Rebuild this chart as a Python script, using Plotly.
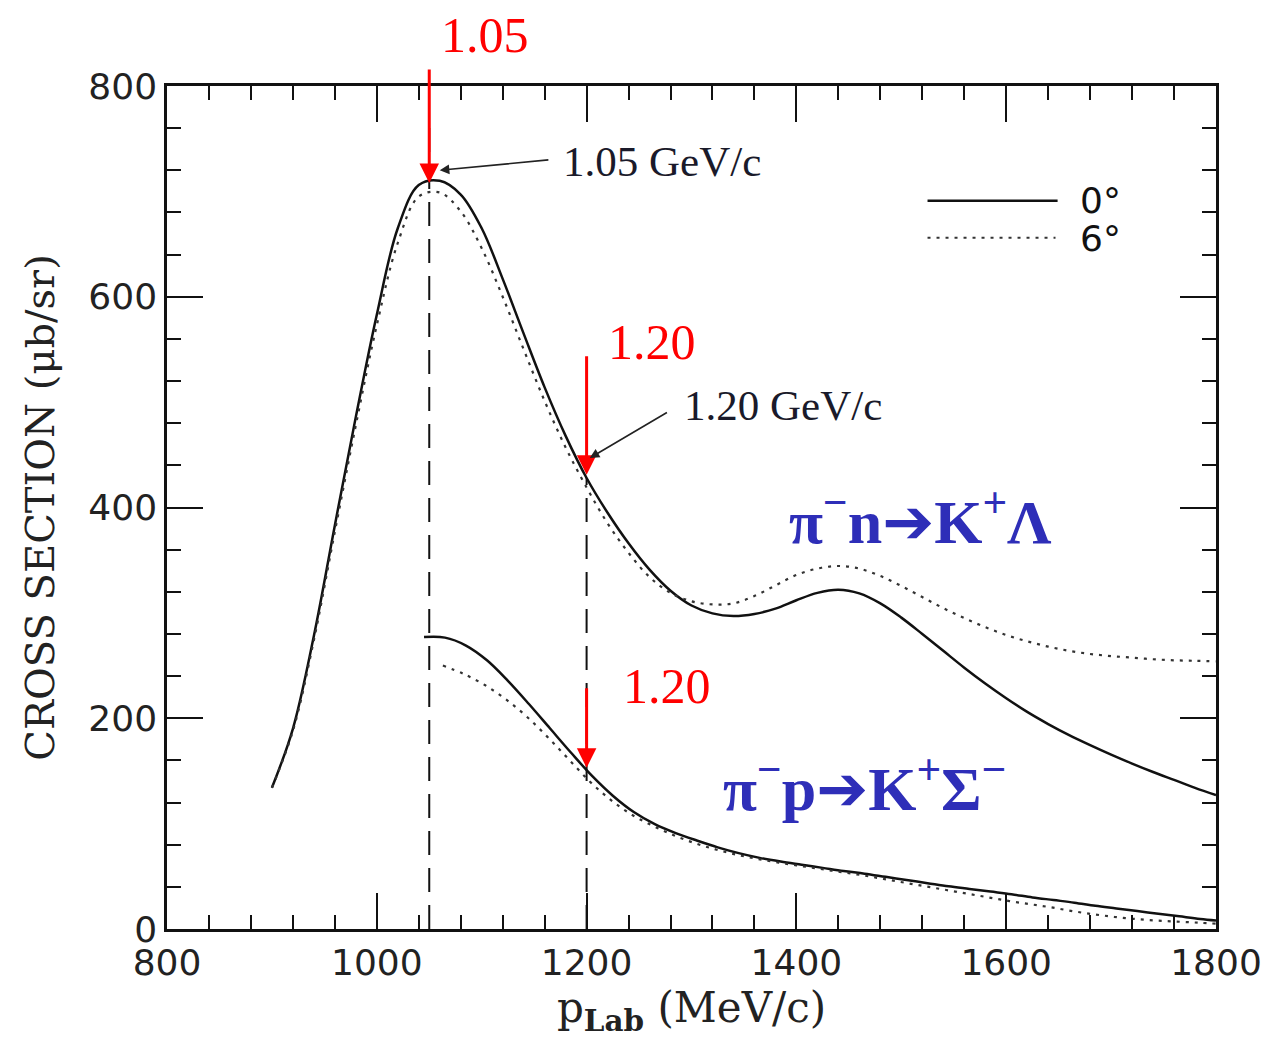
import plotly.graph_objects as go

# ---------------- data ----------------
p_lam = [900, 920, 940, 960, 980, 1000, 1020, 1040, 1060, 1080, 1100, 1120, 1140, 1160,
         1180, 1200, 1220, 1240, 1260, 1280, 1300, 1320, 1340, 1360, 1380, 1400, 1420,
         1440, 1460, 1480, 1500, 1520, 1540, 1560, 1580, 1600, 1620, 1640, 1660, 1680,
         1700, 1720, 1740, 1760, 1780, 1800]
lam_0deg = [134, 190, 278, 383, 486, 583, 665, 706, 710, 697, 665, 617, 565, 514,
            468, 428, 395, 366, 341, 321, 307, 299.5, 297, 299, 304, 312, 319,
            322, 318.5, 309, 295.5, 280, 264, 248, 233, 219, 206, 194.5, 184, 174.5,
            165.5, 157, 149, 141.5, 134, 127]
lam_6deg = [134, 188, 274, 377, 478, 573, 651, 695, 699, 681, 646, 600, 550, 501,
            457, 419, 385, 357, 334, 319, 311, 308, 309, 316, 326, 336, 342,
            344.5, 342, 335, 325.5, 315, 304.5, 295, 286.5, 279, 273, 268, 264, 261,
            259, 257.5, 256, 255, 254.5, 254]

p_sig0 = [1045, 1065, 1085, 1105, 1125, 1145, 1165, 1185, 1205, 1225, 1245, 1265, 1285,
          1305, 1325, 1345, 1365, 1385, 1405, 1425, 1445, 1465, 1485, 1505, 1525, 1545,
          1565, 1585, 1605, 1625, 1645, 1665, 1685, 1705, 1725, 1745, 1765, 1785, 1800]
sig_0deg = [277, 276.5, 269, 255, 235.5, 213.5, 190.5, 167.5, 145.5, 126.5, 111, 99.5, 91,
            84, 77.5, 72, 67.5, 64, 61, 58, 55, 52.5, 49.5, 46.5, 43.5, 40.5,
            38, 35.5, 33, 30, 27.5, 25, 22, 19.5, 17, 14.5, 12, 9.5, 8]
p_sig6 = [1063, 1083, 1103, 1123, 1143, 1163, 1183, 1203, 1223, 1243, 1263, 1283, 1303,
          1323, 1343, 1363, 1383, 1403, 1423, 1443, 1463, 1483, 1503, 1523, 1543, 1563,
          1583, 1603, 1623, 1643, 1663, 1683, 1703, 1723, 1743, 1763, 1783, 1800]
sig_6deg = [250, 242, 231.5, 218, 201.5, 182, 161, 140, 122.5, 108.5, 98, 89, 81.5,
            75.5, 70.5, 66.5, 63, 60, 57, 54, 51, 47.5, 44, 40.5, 37, 33.5,
            30, 26.5, 23.5, 20.5, 17, 14, 11.5, 9.5, 8, 7, 6, 5]

ref_p = [1050, 1200]            # dashed reference momenta
ref_top = [765, 428]            # top of dashed lines

red_x = [1050, 1200, 1200]      # red arrows
red_tip = [708, 431, 153]
red_tail = [817, 545, 230]
red_labels = ["1.05", "1.20", "1.20"]
red_lab_x = [1103, 1262, 1277]
red_lab_y = [848, 557, 231]

gev_labels = ["1.05 GeV/c", "1.20 GeV/c"]
gev_lab_x = [1272, 1387]
gev_lab_y = [728, 497]
gev_tip_x = [1060, 1203]
gev_tip_y = [720, 447]
gev_tail_x = [1165, 1278]
gev_tail_y = [730, 491]

x_ticks = [800, 1000, 1200, 1400, 1600, 1800]
y_ticks = [0, 200, 400, 600, 800]
Y_MAX = 800

# ---------------- figure ----------------
fig = go.Figure()

BLACK = "#111111"
dotted = "3px,6px"

fig.add_trace(go.Scatter(x=p_lam, y=lam_0deg, mode="lines",
                         line=dict(color=BLACK, width=2.5, shape="spline"), showlegend=False))
fig.add_trace(go.Scatter(x=p_lam, y=lam_6deg, mode="lines",
                         line=dict(color="#333333", width=2.2, dash=dotted, shape="spline"), showlegend=False))
fig.add_trace(go.Scatter(x=p_sig0, y=sig_0deg, mode="lines",
                         line=dict(color=BLACK, width=2.5, shape="spline"), showlegend=False))
fig.add_trace(go.Scatter(x=p_sig6, y=sig_6deg, mode="lines",
                         line=dict(color="#333333", width=2.2, dash=dotted, shape="spline"), showlegend=False))

for xp, yt in zip(ref_p, ref_top):
    fig.add_trace(go.Scatter(x=[xp, xp], y=[0, yt], mode="lines",
                             line=dict(color=BLACK, width=2, dash="24px,13px"), showlegend=False))

annotations = []
for xa, tip, tail in zip(red_x, red_tip, red_tail):
    annotations.append(dict(x=xa, y=tip, ax=xa, ay=tail, xref="x", yref="y", axref="x", ayref="y",
                            text="", showarrow=True, arrowhead=2, arrowsize=1.3, arrowwidth=3,
                            arrowcolor="#ff0000"))
for t, xl, yl in zip(red_labels, red_lab_x, red_lab_y):
    if yl > Y_MAX:
        annotations.append(dict(x=xl, y=yl / Y_MAX, xref="x", yref="paper", text=t, showarrow=False,
                                yanchor="middle", xanchor="center",
                                font=dict(family="Liberation Serif", size=50, color="#ff0000")))
    else:
        annotations.append(dict(x=xl, y=yl, xref="x", yref="y", text=t, showarrow=False,
                                font=dict(family="Liberation Serif", size=50, color="#ff0000")))
for t, xl, yl, tx, ty, ax_, ay_ in zip(gev_labels, gev_lab_x, gev_lab_y, gev_tip_x, gev_tip_y,
                                        gev_tail_x, gev_tail_y):
    annotations.append(dict(x=xl, y=yl, xref="x", yref="y", text=t, showarrow=False,
                            font=dict(family="Liberation Serif", size=43, color="#1a1a2a")))
    annotations.append(dict(x=tx, y=ty, ax=ax_, ay=ay_, xref="x", yref="y", axref="x", ayref="y",
                            text="", showarrow=True, arrowhead=2, arrowsize=1.2, arrowwidth=1.6,
                            arrowcolor="#222222"))

# reaction labels
BLUE = "#2e2eb8"
annotations.append(dict(x=1518, y=390, xref="x", yref="y",
                        text="<b>π<sup>−</sup>n</b><span style='font-family:DejaVu Sans'><b>➔</b></span><b>K<sup>+</sup>Λ</b>",
                        showarrow=False, font=dict(family="Liberation Serif", size=62, color=BLUE)))
annotations.append(dict(x=1465, y=137, xref="x", yref="y",
                        text="<b>π<sup>−</sup>p</b><span style='font-family:DejaVu Sans'><b>➔</b></span><b>K<sup>+</sup>Σ<sup>−</sup></b>",
                        showarrow=False, font=dict(family="Liberation Serif", size=62, color=BLUE)))

# legend (drawn like the original)
annotations.append(dict(x=1668, y=691, xref="x", yref="y", text="0°", showarrow=False, xanchor="left",
                        font=dict(family="DejaVu Sans", size=36, color=BLACK)))
annotations.append(dict(x=1668, y=655, xref="x", yref="y", text="6°", showarrow=False, xanchor="left",
                        font=dict(family="DejaVu Sans", size=36, color=BLACK)))
shapes = [
    dict(type="line", x0=1525, x1=1649, y0=691, y1=691, xref="x", yref="y",
         line=dict(color=BLACK, width=2.5)),
    dict(type="line", x0=1525, x1=1647, y0=656, y1=656, xref="x", yref="y",
         line=dict(color="#333333", width=2.2, dash=dotted)),
]

axis_common = dict(showline=True, linecolor=BLACK, linewidth=2.5, mirror="allticks",
                   ticks="inside", ticklen=36, tickwidth=2, tickcolor=BLACK,
                   showgrid=False, zeroline=False, automargin=False,
                   tickfont=dict(family="DejaVu Sans", size=36, color="#222222"))

fig.update_layout(
    width=1268, height=1042,
    margin=dict(l=167, r=52, t=86, b=113),
    paper_bgcolor="white", plot_bgcolor="white",
    showlegend=False,
    annotations=annotations, shapes=shapes,
    xaxis=dict(range=[800, 1800], tickvals=x_ticks,
               minor=dict(dtick=40, tick0=800, ticks="inside", ticklen=14, tickwidth=2, tickcolor=BLACK),
               title=dict(text="p<sub><b>Lab</b></sub> (MeV/c)", standoff=8,
                          font=dict(family="DejaVu Serif", size=42, color="#222222")),
               **axis_common),
    yaxis=dict(range=[0, Y_MAX], tickvals=y_ticks,
               minor=dict(dtick=40, tick0=0, ticks="inside", ticklen=14, tickwidth=2, tickcolor=BLACK),
               title=dict(text="CROSS SECTION (μb/sr)", standoff=22,
                          font=dict(family="DejaVu Serif", size=40, color="#222222")),
               **axis_common),
)

fig.write_html("out.html")
